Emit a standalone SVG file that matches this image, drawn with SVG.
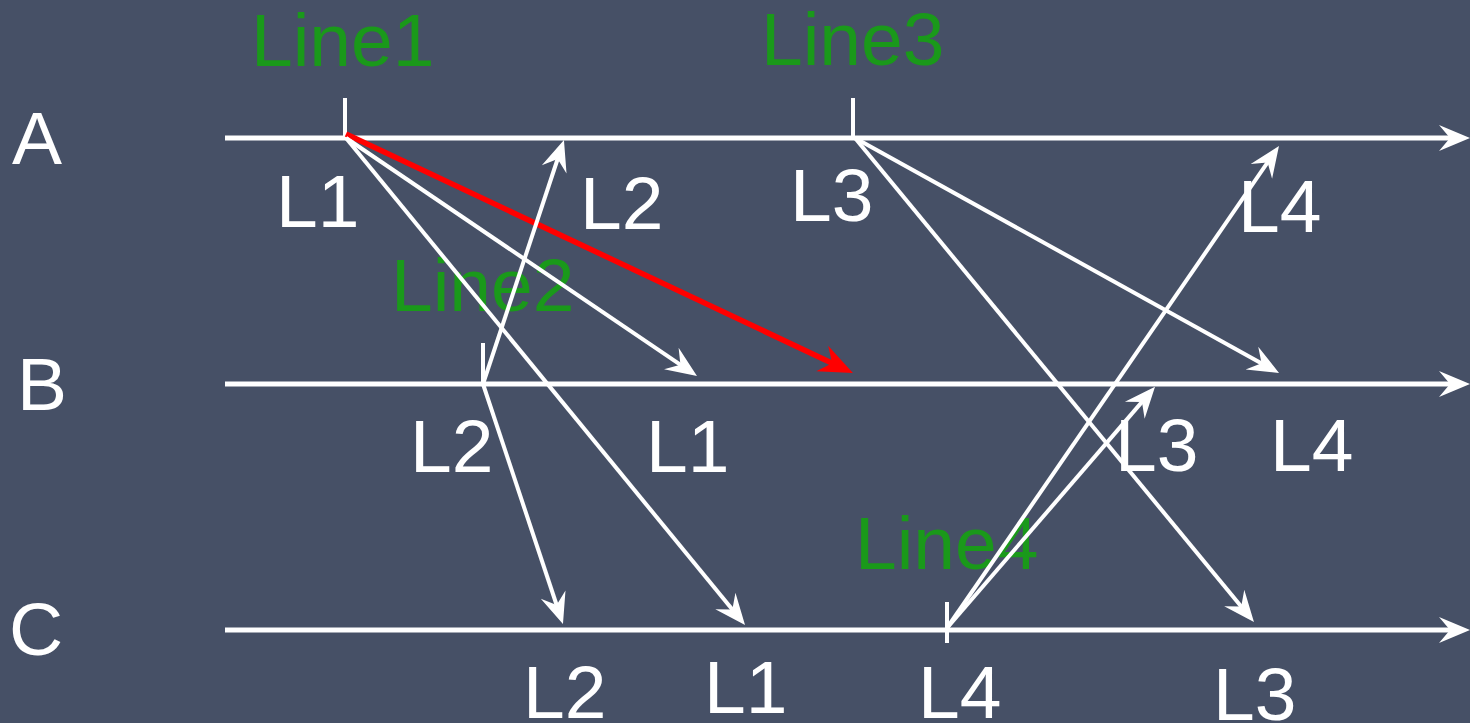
<svg xmlns="http://www.w3.org/2000/svg" width="1470" height="723" viewBox="0 0 1470 723">
<style>
.lbl{font-family:"Liberation Sans",Arial,sans-serif;font-size:75px;fill:#ffffff}
.grn{font-family:"Liberation Sans",Arial,sans-serif;font-size:75px;fill:#1a991a}
.tl{stroke:#ffffff;stroke-width:5;fill:none}
.tick{stroke:#ffffff;stroke-width:4;fill:none}
.msg{stroke:#ffffff;stroke-width:4;fill:none;marker-end:url(#ah)}
.red{stroke:#ff0000;stroke-width:5.5;fill:none;marker-end:url(#ahr)}
</style>
<defs>
<marker id="ah" markerUnits="userSpaceOnUse" markerWidth="70" markerHeight="70" viewBox="-35 -35 70 70" refX="0" refY="0" orient="auto" overflow="visible">
<path d="M10,0 L-21,-13 L-10,0 L-21,13 Z" fill="#ffffff"/>
</marker>
<marker id="ahr" markerUnits="userSpaceOnUse" markerWidth="70" markerHeight="70" viewBox="-35 -35 70 70" refX="0" refY="0" orient="auto" overflow="visible">
<path d="M10,0 L-24,-14 L-13,0 L-24,14 Z" fill="#ff0000"/>
</marker>
</defs>
<rect x="0" y="0" width="1470" height="723" fill="#465066"/>

<g id="timeline-A">
<line class="tl" x1="225" y1="138" x2="1460" y2="138" style="marker-end:url(#ah)"/>
<text class="lbl" x="12" y="164">A</text>
</g>
<g id="timeline-B">
<line class="tl" x1="225" y1="384" x2="1460" y2="384" style="marker-end:url(#ah)"/>
<text class="lbl" x="17" y="410">B</text>
</g>
<g id="timeline-C">
<line class="tl" x1="225" y1="630" x2="1460" y2="630" style="marker-end:url(#ah)"/>
<text class="lbl" x="9" y="655">C</text>
</g>

<g id="line1">
<line class="tick" x1="345" y1="98" x2="345" y2="138"/>
<text class="grn" x="251" y="66">Line1</text>
<text class="lbl" x="276" y="227">L1</text>
</g>
<g id="line2">
<line class="tick" x1="483" y1="343" x2="483" y2="384"/>
<text class="grn" x="391" y="311">Line2</text>
<text class="lbl" x="410" y="472">L2</text>
</g>
<g id="line3">
<line class="tick" x1="853" y1="98" x2="853" y2="138"/>
<text class="grn" x="761" y="65">Line3</text>
<text class="lbl" x="790" y="221">L3</text>
</g>
<g id="line4">
<line class="tick" x1="947" y1="602" x2="947" y2="643"/>
<text class="grn" x="855" y="569">Line4</text>
<text class="lbl" x="918" y="718">L4</text>
</g>

<g id="connectors">
<line class="red" x1="346" y1="134" x2="843.9" y2="368.7"/>
<line class="msg" x1="346" y1="138" x2="688.7" y2="370.4"/>
<line class="msg" x1="346" y1="138" x2="738.7" y2="617.3"/>
<line class="msg" x1="483" y1="384" x2="560.8" y2="149.5"/>
<line class="msg" x1="483" y1="384" x2="559.8" y2="614.5"/>
<line class="msg" x1="855" y1="138" x2="1270.3" y2="368.2"/>
<line class="msg" x1="855" y1="138" x2="1247.6" y2="614.3"/>
<line class="msg" x1="947" y1="628" x2="1273.3" y2="154.2"/>
<line class="msg" x1="947" y1="628" x2="1148.5" y2="394.4"/>
</g>

<g id="arrow-labels">
<text class="lbl" x="580" y="229">L2</text>
<text class="lbl" x="1238" y="232">L4</text>
<text class="lbl" x="646" y="472">L1</text>
<text class="lbl" x="1115" y="471">L3</text>
<text class="lbl" x="1270" y="471">L4</text>
<text class="lbl" x="523" y="718">L2</text>
<text class="lbl" x="704" y="713">L1</text>
<text class="lbl" x="1213" y="720">L3</text>
</g>
</svg>
